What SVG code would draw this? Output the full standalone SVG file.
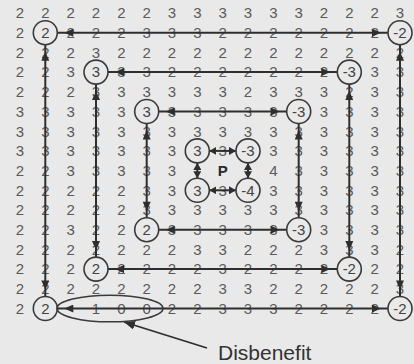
<svg xmlns="http://www.w3.org/2000/svg" width="414" height="364" viewBox="0 0 414 364">
<style>
.d{font-family:"Liberation Sans",Arial,sans-serif;font-size:15px;fill:#5a5a5a;text-anchor:middle}
.c{font-family:"Liberation Sans",Arial,sans-serif;font-size:15px;fill:#444;text-anchor:middle}
.n circle{fill:none;stroke:#3a3a3a;stroke-width:1.6}
.ln{stroke:#2e2e2e;stroke-width:2;fill:none}
.r{marker-start:url(#ah);marker-end:url(#ah)}
.r4{marker-start:url(#ah4);marker-end:url(#ah4)}
</style>
<defs>
<marker id="ah" markerUnits="userSpaceOnUse" viewBox="0 0 17 8" markerWidth="17" markerHeight="8" refX="17" refY="4" orient="auto-start-reverse"><path d="M1,0 L10,4 L1,8 z" fill="#2e2e2e"/></marker>
<marker id="ah4" markerUnits="userSpaceOnUse" viewBox="0 0 7 8" markerWidth="7" markerHeight="8" refX="7" refY="4" orient="auto-start-reverse"><path d="M0,0 L7,4 L0,8 z" fill="#2e2e2e"/></marker>
<marker id="ahp" markerUnits="userSpaceOnUse" viewBox="0 0 11 9" markerWidth="11" markerHeight="9" refX="11" refY="4.5" orient="auto-start-reverse"><path d="M0,0 L11,4.5 L0,9 z" fill="#2e2e2e"/></marker>
</defs>
<rect width="414" height="364" fill="#e9e9e9"/>
<g id="grid">
<text class="d" x="20 45.3 70.7 96 121.3 146.7 172 197.3 222.7 248 273.3 298.7 324 349.3 374.7 400" y="18.3">2222223333332223</text>
<text class="d" x="20" y="38">2</text>
<text class="d" x="70.7 96 121.3 146.7 172 197.3 222.7 248 273.3 298.7 324 349.3 374.7" y="38">2223332222222</text>
<text class="d" x="20 45.3 70.7 96 121.3 146.7 172 197.3 222.7 248 273.3 298.7 324 349.3 374.7 400" y="57.7">2223222222222222</text>
<text class="d" x="20 45.3 70.7" y="77.4">223</text>
<text class="d" x="121.3 146.7 172 197.3 222.7 248 273.3 298.7 324" y="77.4">332222222</text>
<text class="d" x="374.7 400" y="77.4">33</text>
<text class="d" x="20 45.3 70.7 96 121.3 146.7 172 197.3 222.7 248 273.3 298.7 324 349.3 374.7 400" y="97.1">2223333332333233</text>
<text class="d" x="20 45.3 70.7 96 121.3" y="116.8">33333</text>
<text class="d" x="172 197.3 222.7 248 273.3" y="116.8">33333</text>
<text class="d" x="324 349.3 374.7 400" y="116.8">3333</text>
<text class="d" x="20 45.3 70.7 96 121.3 146.7 172 197.3 222.7 248 273.3 298.7 324 349.3 374.7 400" y="136.5">3333333333333333</text>
<text class="d" x="20 45.3 70.7 96 121.3 146.7 172" y="156.2">3333333</text>
<text class="d" x="222.7" y="156.2">3</text>
<text class="d" x="273.3 298.7 324 349.3 374.7 400" y="156.2">333333</text>
<text class="d" x="20 45.3 70.7 96 121.3 146.7 172" y="175.9">2233333</text>
<text class="d" x="273.3 298.7 324 349.3 374.7 400" y="175.9">433333</text>
<text class="d" x="20 45.3 70.7 96 121.3 146.7 172" y="195.6">2222233</text>
<text class="d" x="222.7" y="195.6">3</text>
<text class="d" x="273.3 298.7 324 349.3 374.7 400" y="195.6">333333</text>
<text class="d" x="20 45.3 70.7 96 121.3 146.7 172 197.3 222.7 248 273.3 298.7 324 349.3 374.7 400" y="215.3">2222233333333333</text>
<text class="d" x="20 45.3 70.7 96 121.3" y="235">22322</text>
<text class="d" x="172 197.3 222.7 248 273.3" y="235">33333</text>
<text class="d" x="324 349.3 374.7 400" y="235">3333</text>
<text class="d" x="20 45.3 70.7 96 121.3 146.7 172 197.3 222.7 248 273.3 298.7 324 349.3 374.7 400" y="254.7">2222222332223332</text>
<text class="d" x="20 45.3 70.7" y="274.4">222</text>
<text class="d" x="121.3 146.7 172 197.3 222.7 248 273.3 298.7 324" y="274.4">222232222</text>
<text class="d" x="374.7 400" y="274.4">22</text>
<text class="d" x="20 45.3 70.7 96 121.3 146.7 172 197.3 222.7 248 273.3 298.7 324 349.3 374.7 400" y="294.1">2222222233222223</text>
<text class="d" x="20" y="313.8">2</text>
<text class="d" x="96 121.3 146.7" y="313.8">100</text>
<text class="d" x="172 197.3 222.7 248 273.3 298.7 324 349.3 374.7" y="313.8">223332222</text>
<text x="222.7" y="175.9" style="font-family:'Liberation Sans',Arial,sans-serif;font-size:15px;font-weight:bold;fill:#2a2a2a;text-anchor:middle">P</text>
</g>
<g id="connectors">
<line class="ln r" x1="57.3" y1="32.7" x2="388" y2="32.7"/>
<line class="ln r" x1="57.3" y1="308.5" x2="388" y2="308.5"/>
<line class="ln r" x1="45.3" y1="44.7" x2="45.3" y2="296.5"/>
<line class="ln r" x1="400" y1="44.7" x2="400" y2="296.5"/>
<line class="ln r" x1="108" y1="72.1" x2="337.3" y2="72.1"/>
<line class="ln r" x1="108" y1="269.1" x2="337.3" y2="269.1"/>
<line class="ln r" x1="96" y1="84.1" x2="96" y2="257.1"/>
<line class="ln r" x1="349.3" y1="84.1" x2="349.3" y2="257.1"/>
<line class="ln r" x1="158.7" y1="111.5" x2="286.7" y2="111.5"/>
<line class="ln r" x1="158.7" y1="229.7" x2="286.7" y2="229.7"/>
<line class="ln r" x1="146.7" y1="123.5" x2="146.7" y2="217.7"/>
<line class="ln r" x1="298.7" y1="123.5" x2="298.7" y2="217.7"/>
<line class="ln r4" x1="209.3" y1="150.9" x2="236" y2="150.9"/>
<line class="ln r4" x1="209.3" y1="190.3" x2="236" y2="190.3"/>
<line class="ln r4" x1="197.3" y1="162.9" x2="197.3" y2="178.3"/>
<line class="ln r4" x1="248" y1="162.9" x2="248" y2="178.3"/>
<line x1="124" y1="322" x2="207" y2="348" stroke="#2e2e2e" stroke-width="1.8" marker-start="url(#ahp)"/>
</g>
<g id="n-r1c1" class="n"><circle cx="45.3" cy="32.7" r="12"/><text class="c" x="45.3" y="38">2</text></g>
<g id="n-r1c15" class="n"><circle cx="400" cy="32.7" r="12"/><text class="c" x="400" y="38">-2</text></g>
<g id="n-r15c1" class="n"><circle cx="45.3" cy="308.5" r="12"/><text class="c" x="45.3" y="313.8">2</text></g>
<g id="n-r15c15" class="n"><circle cx="400" cy="308.5" r="12"/><text class="c" x="400" y="313.8">-2</text></g>
<g id="n-r3c3" class="n"><circle cx="96" cy="72.1" r="12"/><text class="c" x="96" y="77.4">3</text></g>
<g id="n-r3c13" class="n"><circle cx="349.3" cy="72.1" r="12"/><text class="c" x="349.3" y="77.4">-3</text></g>
<g id="n-r13c3" class="n"><circle cx="96" cy="269.1" r="12"/><text class="c" x="96" y="274.4">2</text></g>
<g id="n-r13c13" class="n"><circle cx="349.3" cy="269.1" r="12"/><text class="c" x="349.3" y="274.4">-2</text></g>
<g id="n-r5c5" class="n"><circle cx="146.7" cy="111.5" r="12"/><text class="c" x="146.7" y="116.8">3</text></g>
<g id="n-r5c11" class="n"><circle cx="298.7" cy="111.5" r="12"/><text class="c" x="298.7" y="116.8">-3</text></g>
<g id="n-r11c5" class="n"><circle cx="146.7" cy="229.7" r="12"/><text class="c" x="146.7" y="235">2</text></g>
<g id="n-r11c11" class="n"><circle cx="298.7" cy="229.7" r="12"/><text class="c" x="298.7" y="235">-3</text></g>
<g id="n-r7c7" class="n"><circle cx="197.3" cy="150.9" r="12"/><text class="c" x="197.3" y="156.2">3</text></g>
<g id="n-r7c9" class="n"><circle cx="248" cy="150.9" r="12"/><text class="c" x="248" y="156.2">-3</text></g>
<g id="n-r9c7" class="n"><circle cx="197.3" cy="190.3" r="12"/><text class="c" x="197.3" y="195.6">3</text></g>
<g id="n-r9c9" class="n"><circle cx="248" cy="190.3" r="12"/><text class="c" x="248" y="195.6">-4</text></g>
<g id="disbenefit">
<ellipse cx="110" cy="308.5" rx="53" ry="13.3" fill="none" stroke="#3a3a3a" stroke-width="1.6"/>
<text x="218" y="360" style="font-family:'Liberation Sans',Arial,sans-serif;font-size:21px;fill:#333">Disbenefit</text>
</g>
</svg>
